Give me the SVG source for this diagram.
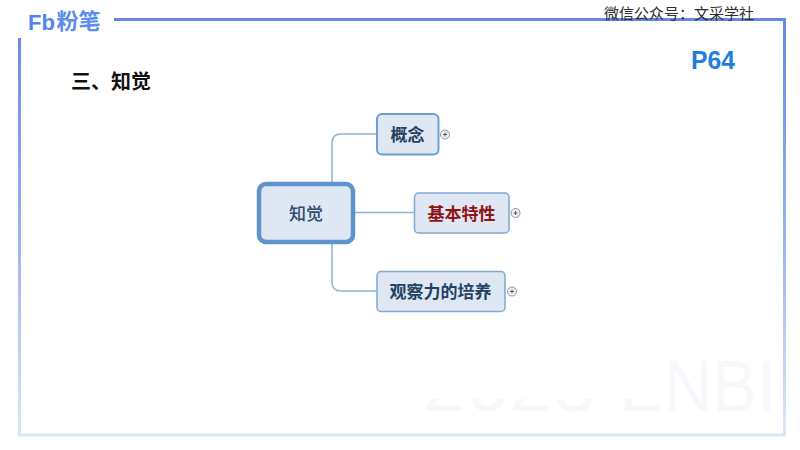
<svg xmlns="http://www.w3.org/2000/svg" width="800" height="450" viewBox="0 0 800 450">
<style>
.cjk{font-family:"Noto Sans CJK SC","Liberation Sans",sans-serif}
.lbl{font-size:17px;font-weight:700;fill:#24405f;text-anchor:middle}
.conn{fill:none;stroke:#8fb4d6;stroke-width:1.5}
.box{fill:#dee7f3;stroke:#7fa9d0;stroke-width:1.5}
.plus{fill:#f1f4f7;stroke:#8a97a5;stroke-width:1}
.pm{fill:none;stroke:#555;stroke-width:1}
</style>
<defs>
<linearGradient id="fr" gradientUnits="userSpaceOnUse" x1="0" y1="19" x2="0" y2="436">
<stop offset="0" stop-color="#6488e6"/><stop offset=".55" stop-color="#9db6ef"/><stop offset="1" stop-color="#dce7fa"/>
</linearGradient>
<clipPath id="wm"><rect x="420" y="399" width="240" height="20"/></clipPath>
</defs>
<rect width="800" height="450" fill="#fff"/>
<g id="watermark" font-family="Liberation Sans,sans-serif" fill="#f7f8fc">
<text x="664" y="411" font-size="72" textLength="112" lengthAdjust="spacingAndGlyphs">NBI</text>
<text x="422" y="411" font-size="72" textLength="240" lengthAdjust="spacingAndGlyphs" clip-path="url(#wm)">2023 L</text>
</g>
<g id="frame" fill="none" stroke="url(#fr)" stroke-width="3">
<path d="M114 19.500H784.500V435H19.500V38"/>
</g>
<g id="logo">
<text x="28" y="30" font-family="Liberation Sans,sans-serif" font-size="22" font-weight="700" fill="#4f86e8">Fb</text>
<text x="56.500" y="29" class="cjk" font-size="21.500" font-weight="700" fill="#5b8dea" textLength="44" lengthAdjust="spacingAndGlyphs">粉笔</text>
</g>
<text x="604" y="19" class="cjk" font-size="15" fill="#2d2d2d" textLength="150">微信公众号：文采学社</text>
<text x="691" y="69" font-family="Liberation Sans,sans-serif" font-size="25" font-weight="700" fill="#1f7fdc" textLength="44" lengthAdjust="spacingAndGlyphs">P64</text>
<text x="71" y="88.500" class="cjk" font-size="20" font-weight="700" fill="#111">三、知觉</text>
<g id="connectors">
<path class="conn" d="M332 183V143Q332 134 341 134H377"/>
<path class="conn" d="M354 212.500H415"/>
<path class="conn" d="M332 243V282Q332 291 341 291H377"/>
</g>
<g id="n-root">
<rect x="259" y="184" width="94" height="58" rx="7" fill="#dee7f3" stroke="#5f93cc" stroke-width="4.500"/>
<text x="306" y="220" class="cjk lbl" style="font-weight:500;fill:#2c4a6e">知觉</text>
</g>
<g id="n-concept">
<rect x="377" y="114" width="61.500" height="40.500" rx="5" fill="#dee7f3" stroke="#6f9fcf" stroke-width="2"/>
<text x="407.500" y="141" class="cjk lbl">概念</text>
<circle class="plus" cx="445" cy="134.500" r="4.500"/><path class="pm" d="M443 134.500H447M445 132.500V136.500"/>
</g>
<g id="n-traits">
<rect class="box" x="414.500" y="193" width="94.500" height="40" rx="4"/>
<text x="461.500" y="220" class="cjk lbl" style="fill:#8f1414">基本特性</text>
<circle class="plus" cx="515.500" cy="213" r="4.500"/><path class="pm" d="M513.500 213H517.500M515.500 211V215"/>
</g>
<g id="n-observe">
<rect class="box" x="377" y="271.500" width="128" height="40" rx="4"/>
<text x="440.500" y="298" class="cjk lbl">观察力的培养</text>
<circle class="plus" cx="512" cy="291.500" r="4.500"/><path class="pm" d="M510 291.500H514M512 289.500V293.500"/>
</g>
</svg>
